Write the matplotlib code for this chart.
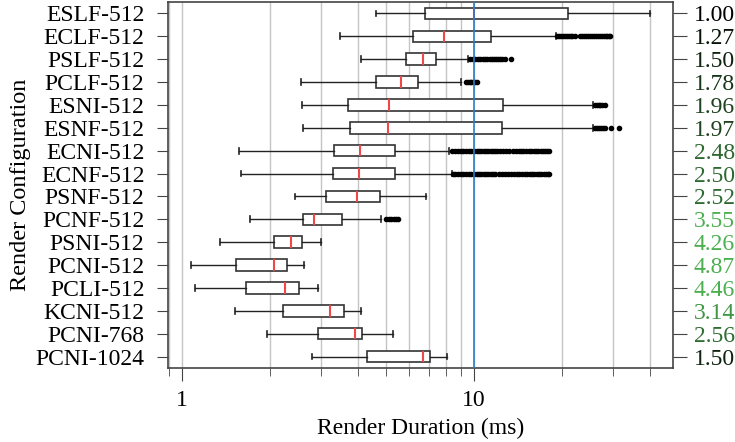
import matplotlib.pyplot as plt
import numpy as np
from matplotlib.colors import LinearSegmentedColormap, Normalize

plt.rcParams['font.family'] = ['Liberation Serif', 'DejaVu Serif']
plt.rcParams['font.size'] = 17

# rows, top to bottom
configs = ['ESLF-512', 'ECLF-512', 'PSLF-512', 'PCLF-512', 'ESNI-512', 'ESNF-512',
           'ECNI-512', 'ECNF-512', 'PSNF-512', 'PCNF-512', 'PSNI-512', 'PCNI-512',
           'PCLI-512', 'KCNI-512', 'PCNI-768', 'PCNI-1024']
speedup = [1.00, 1.27, 1.50, 1.78, 1.96, 1.97, 2.48, 2.50, 2.52, 3.55, 4.26, 4.87,
           4.46, 3.14, 2.56, 1.50]

whislo = [4.61, 3.48, 4.10, 2.55, 2.58, 2.60, 1.57, 1.59, 2.44, 1.71, 1.35, 1.076,
          1.108, 1.52, 1.95, 2.79]
q1 = [6.80, 6.20, 5.84, 4.63, 3.71, 3.75, 3.31, 3.29, 3.11, 2.60, 2.07, 1.535,
      1.65, 2.22, 2.92, 4.31]
med = [10.0, 7.87, 6.69, 5.62, 5.10, 5.08, 4.06, 4.02, 3.98, 2.83, 2.36, 2.07,
       2.25, 3.21, 3.91, 6.69]
q3 = [20.9, 11.4, 7.39, 6.45, 12.6, 12.5, 5.36, 5.35, 4.75, 3.53, 2.57, 2.29,
      2.51, 3.59, 4.13, 7.09]
whishi = [40.2, 19.1, 9.54, 9.00, 25.6, 25.6, 8.19, 8.39, 6.87, 4.79, 2.99, 2.62,
          2.92, 4.10, 5.28, 8.08]
fliers = [
    [],
    [19.3, 19.6, 19.9, 20.2, 20.5, 20.8, 21.1, 21.4, 21.7, 22.2,
     23.0, 23.4, 23.8, 24.2, 24.6, 25.0, 25.4, 25.8, 26.2, 26.6, 27.0, 27.4,
     27.8, 28.2, 28.6, 29.0, 29.3],
    [9.7, 9.9, 10.1, 10.3, 10.5, 10.7, 10.9, 11.1, 11.3, 11.5, 11.7, 11.9,
     12.1, 12.3, 12.5, 12.8, 13.4],
    [9.35, 9.5, 9.65, 9.8, 9.95, 10.1, 10.2],
    [25.9, 26.3, 26.7, 27.1, 27.5, 28.1],
    [26.0, 26.4, 26.8, 27.2, 27.6, 28.0, 29.4, 31.4],
    [8.4, 8.6, 8.8, 9.0, 9.2, 9.4, 9.6, 9.8, 10.0, 10.2, 10.4, 10.6, 10.8,
     11.0, 11.2, 11.4, 11.6, 11.8, 12.0, 12.3, 12.6, 12.9, 13.2, 13.6,
     13.9, 14.2, 14.5, 14.7, 15.1, 15.4, 15.7, 16.0, 16.3, 16.6, 16.9,
     17.2, 17.5, 17.8, 18.1],
    [8.5, 8.6, 8.8, 9.0, 9.2, 9.4, 9.6, 9.8, 10.0, 10.2, 10.4, 10.6, 10.8,
     11.0, 11.2, 11.4, 11.6, 11.8, 12.2, 12.5, 12.8, 13.1, 13.4, 13.7,
     14.0, 14.3, 14.6, 14.9, 15.2, 15.5, 15.8, 16.1, 16.4, 16.7, 17.0,
     17.3, 17.6, 17.9, 18.1],
    [],
    [5.0, 5.1, 5.2, 5.3, 5.4, 5.48],
    [], [], [], [], [], [],
]

n = len(configs)
positions = np.arange(n, 0, -1)

stats = []
for i in range(n):
    stats.append(dict(label=configs[i], whislo=whislo[i], q1=q1[i], med=med[i],
                      q3=q3[i], whishi=whishi[i], fliers=fliers[i]))

fig, ax = plt.subplots(figsize=(7.35, 4.42), dpi=100)
fig.subplots_adjust(left=0.2286, right=0.9156, top=0.9955, bottom=0.1674)

ax.set_xscale('log')
ax.set_xlim(0.895, 48)
ax.set_ylim(0.5, n + 0.5)

ax.set_xticks([1, 10])
ax.set_xticklabels(['1', '10'])
ax.set_xticks([0.9, 2, 3, 4, 5, 6, 7, 8, 9, 20, 30, 40], minor=True)
ax.xaxis.set_minor_formatter(plt.NullFormatter())
ax.grid(True, which='both', axis='x', color='#c4c4c4', linewidth=1)
ax.set_axisbelow(True)

ax.bxp(stats, positions=positions, orientation='horizontal', widths=0.5,
       capwidths=0.25, patch_artist=True,
       boxprops=dict(facecolor='white', edgecolor='#333333', linewidth=1.2),
       medianprops=dict(color='#ee4848', linewidth=1.5),
       whiskerprops=dict(color='#222222', linewidth=1),
       capprops=dict(color='#222222', linewidth=1.2),
       flierprops=dict(marker='o', markersize=3, markerfacecolor='black',
                       markeredgecolor='black', linestyle='none'))

ax.axvline(10, color='#2b7bcc', linewidth=1.2, zorder=10)

ax.set_yticks(positions)
ax.set_yticklabels(configs)
ax.set_ylabel('Render Configuration', fontsize=17.5, labelpad=3)
ax.set_xlabel('Render Duration (ms)', labelpad=5)
ax.tick_params(axis='y', which='major', length=8, pad=9, color='#444444')
ax.tick_params(axis='x', which='major', length=9, pad=7, color='#444444')
ax.tick_params(axis='x', which='minor', length=6, color='#444444')
for s in ax.spines.values():
    s.set_color('#444444')
    s.set_linewidth(1.2)

# right side: speedup labels coloured black -> green
cmap = LinearSegmentedColormap.from_list('bg', ['#000000', '#4caf50'])
norm = Normalize(1.0, 3.5, clip=True)
ax2 = ax.twinx()
ax2.set_ylim(ax.get_ylim())
ax2.set_yticks(positions)
ax2.set_yticklabels(['%.2f' % v for v in speedup])
ax2.tick_params(axis='y', length=10, pad=5, color='#444444')
for lab, v in zip(ax2.get_yticklabels(), speedup):
    lab.set_color(cmap(norm(v)))
for s in ax2.spines.values():
    s.set_visible(False)

fig.savefig('out.png', dpi=100)
